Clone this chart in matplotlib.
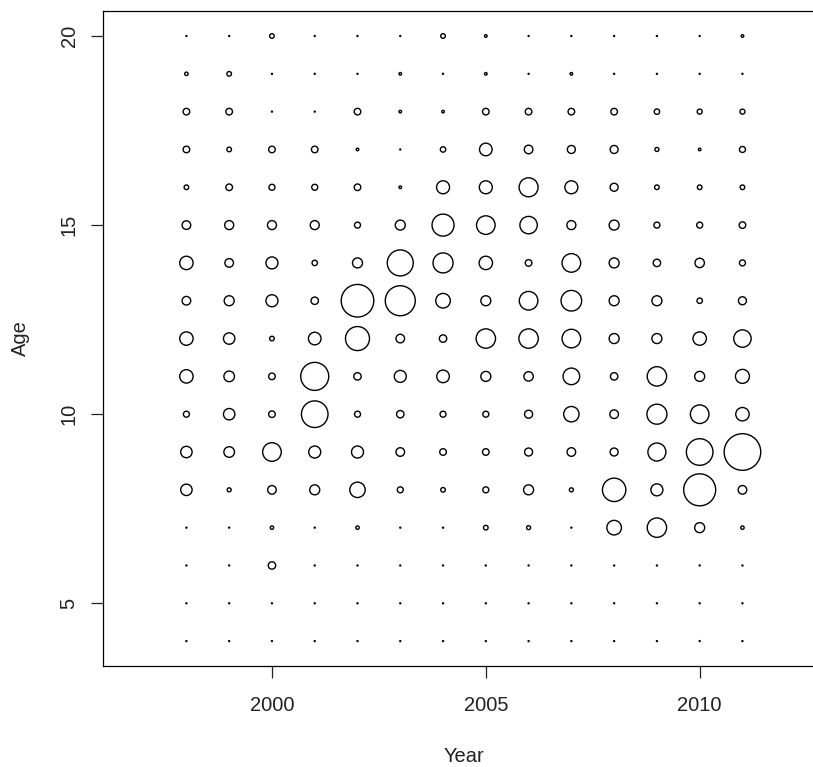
import matplotlib
matplotlib.use("Agg")
import matplotlib.pyplot as plt
import numpy as np

years = list(range(1998, 2012))
ages = list(range(4, 21))

# bubble radius values (relative units), one row per age
# columns: 1998 .. 2011
r20 = [0.5, 0.5, 2.3, 0.5, 0.5, 0.5, 2.3, 1.3, 0.5, 0.5, 0.5, 0.5, 0.5, 1.3]
r19 = [1.7, 2.3, 0.5, 0.5, 0.5, 1.3, 0.5, 1.3, 0.5, 1.3, 0.5, 0.5, 0.5, 0.5]
r18 = [3.3, 3.3, 0.5, 0.5, 3.3, 1.3, 1.3, 3.3, 3.3, 3.3, 3.3, 2.7, 2.5, 2.5]
r17 = [3.3, 2.3, 3.3, 3.3, 1.3, 0.5, 2.7, 6.3, 4.3, 4.0, 4.0, 2.0, 1.3, 3.0]
r16 = [2.3, 3.3, 3.0, 3.0, 3.3, 1.3, 6.5, 6.5, 9.5, 6.5, 4.0, 2.3, 2.3, 2.3]
r15 = [4.3, 4.5, 4.5, 4.5, 3.0, 5.0, 11.0, 9.3, 8.7, 4.5, 5.0, 3.0, 3.0, 3.3]
r14 = [6.7, 4.3, 6.0, 2.7, 5.0, 13.0, 10.0, 6.7, 3.3, 9.3, 5.0, 3.7, 4.7, 3.0]
r13 = [4.3, 5.0, 6.0, 3.7, 16.3, 15.0, 7.3, 5.0, 9.3, 10.3, 5.0, 5.0, 2.7, 4.0]
r12 = [6.7, 5.7, 2.3, 6.3, 12.0, 4.3, 3.7, 9.7, 9.7, 9.3, 5.0, 5.0, 6.7, 8.7]
r11 = [6.7, 5.3, 3.3, 14.0, 3.7, 6.0, 6.3, 5.0, 4.7, 8.3, 3.7, 9.7, 5.0, 7.0]
r10 = [3.0, 5.7, 3.3, 13.3, 3.0, 3.7, 3.0, 3.0, 4.0, 7.7, 4.3, 10.0, 9.3, 6.7]
r9 = [5.7, 5.3, 9.3, 6.0, 6.0, 4.3, 3.3, 3.3, 4.0, 4.3, 4.0, 9.0, 13.3, 18.3]
r8 = [5.7, 2.0, 4.3, 5.0, 7.7, 3.0, 2.3, 3.0, 5.0, 2.0, 11.7, 6.0, 16.0, 4.3]
r7 = [0.5, 0.5, 1.7, 0.5, 1.7, 0.5, 0.5, 2.3, 2.0, 0.5, 7.3, 9.7, 5.0, 1.7]
r6 = [0.5, 0.5, 3.7, 0.5, 0.5, 0.5, 0.5, 0.5, 0.5, 0.5, 0.5, 0.5, 0.5, 0.5]
r5 = [0.5] * 14
r4 = [0.5] * 14

rows = {4: r4, 5: r5, 6: r6, 7: r7, 8: r8, 9: r9, 10: r10, 11: r11, 12: r12,
        13: r13, 14: r14, 15: r15, 16: r16, 17: r17, 18: r18, 19: r19, 20: r20}

plt.rcParams['font.family'] = ['Liberation Sans', 'DejaVu Sans']

W, H, DPI = 813, 767, 100
fig = plt.figure(figsize=(W / DPI, H / DPI), dpi=DPI)
ax = fig.add_axes([103 / W, 1 - 666 / H, (825 - 103) / W, (666 - 11) / H])

xs, ys, rs = [], [], []
for a in ages:
    for y, r in zip(years, rows[a]):
        xs.append(y)
        ys.append(a)
        rs.append(r)
xs = np.array(xs)
ys = np.array(ys)
rs = np.array(rs)
# radius unit -> points (1 unit = 1 px at 100 dpi)
r_pt = rs * 72.0 / DPI
ax.scatter(xs, ys, s=(2 * r_pt) ** 2, facecolors='none', edgecolors='black',
           linewidths=1.0, marker='o')

ax.set_xlim(1996.05, 2012.93)
ax.set_ylim(3.342, 20.661)
ax.set_xticks([2000, 2005, 2010])
ax.set_yticks([5, 10, 15, 20])
ax.tick_params(axis='both', length=8.6, width=0.9, labelsize=14.5,
               colors='#222222')
ax.tick_params(axis='x', pad=13)
ax.tick_params(axis='y', pad=9)
for lab in ax.get_yticklabels():
    lab.set_rotation(90)
    lab.set_va('center')
for s in ax.spines.values():
    s.set_linewidth(0.9)

fig.text(464 / W, 1 - 756 / H, 'Year', ha='center', va='center', fontsize=14.5,
         color='#222222')
fig.text(20 / W, 1 - 338.5 / H, 'Age', ha='center', va='center', fontsize=14.5,
         rotation=90, color='#222222')

fig.savefig('out.png', dpi=DPI)
